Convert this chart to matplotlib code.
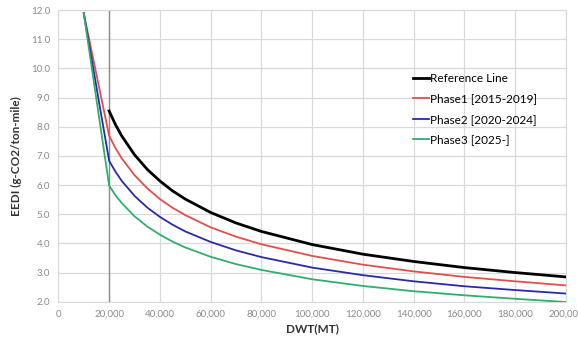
import matplotlib.pyplot as plt
from matplotlib.ticker import FuncFormatter, MultipleLocator

plt.rcParams['font.family'] = ['Lato', 'DejaVu Sans']

# DWT (MT) and EEDI values
dwt_ref = [20000, 22500, 25000, 30000, 35000, 40000, 45000, 50000, 60000, 70000,
           80000, 100000, 120000, 140000, 160000, 180000, 200000]
ref_line = [8.54, 8.07, 7.68, 7.04, 6.54, 6.14, 5.80, 5.52, 5.06, 4.70,
            4.41, 3.96, 3.63, 3.38, 3.17, 3.00, 2.85]

dwt_phase = [10000] + dwt_ref
phase1 = [11.89, 7.69, 7.27, 6.91, 6.34, 5.89, 5.52, 5.22, 4.97, 4.55, 4.23,
          3.97, 3.57, 3.27, 3.04, 2.85, 2.70, 2.56]
phase2 = [11.89, 6.83, 6.46, 6.14, 5.63, 5.23, 4.91, 4.64, 4.41, 4.05, 3.76,
          3.53, 3.17, 2.91, 2.70, 2.53, 2.40, 2.28]
phase3 = [11.89, 5.98, 5.65, 5.38, 4.93, 4.58, 4.30, 4.06, 3.86, 3.54, 3.29,
          3.09, 2.77, 2.54, 2.36, 2.22, 2.10, 1.99]

fig = plt.figure(figsize=(5.78, 3.47), dpi=100)
ax = fig.add_axes([0.101, 0.1305, 0.878, 0.8405])

ax.plot(dwt_ref, ref_line, color='black', lw=2.0, label='Reference Line', zorder=4)
ax.plot(dwt_phase, phase1, color='#e0504a', lw=1.3, label='Phase1 [2015-2019]', zorder=3)
ax.plot(dwt_phase, phase2, color='#2a2aa8', lw=1.3, label='Phase2 [2020-2024]', zorder=3)
ax.plot(dwt_phase, phase3, color='#2fae6e', lw=1.3, label='Phase3 [2025-]', zorder=3)

ax.axvline(20000, color='#8c8c8c', lw=1.0, zorder=2)

ax.set_xlim(0, 200000)
ax.set_ylim(2.0, 12.0)
ax.xaxis.set_major_locator(MultipleLocator(20000))
ax.yaxis.set_major_locator(MultipleLocator(1.0))
ax.xaxis.set_major_formatter(FuncFormatter(lambda v, p: f'{int(v):,}'))
ax.yaxis.set_major_formatter(FuncFormatter(lambda v, p: f'{v:.1f}'))
ax.grid(True, color='#d9d9d9', lw=0.9)
ax.set_axisbelow(True)
for s in ax.spines.values():
    s.set_color('#d9d9d9')
ax.tick_params(length=0, labelsize=7, colors='#8a8a8a', pad=6)

ax.set_xlabel('DWT(MT)', fontsize=8.5, fontweight='bold', color='#333333', labelpad=3)
ax.set_ylabel('EEDI (g-CO2/ton-mile)', fontsize=8.5, fontweight='bold', color='#333333', labelpad=6)

ax.legend(loc='upper left', bbox_to_anchor=(0.69, 0.8), frameon=False, fontsize=8.5,
          handlelength=1.3, handletextpad=0.1, labelspacing=0.8, borderaxespad=0)

fig.savefig('out.png', dpi=100)
